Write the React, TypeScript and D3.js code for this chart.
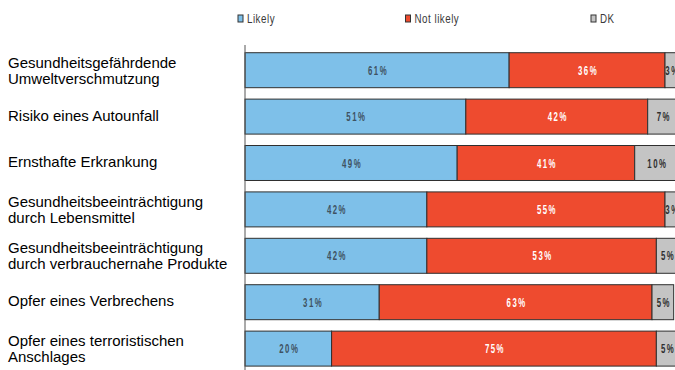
import React from "react";
import * as d3 from "d3";

const categories: string[][] = [
  ["Gesundheitsgefährdende", "Umweltverschmutzung"],
  ["Risiko eines Autounfall"],
  ["Ernsthafte Erkrankung"],
  ["Gesundheitsbeeinträchtigung", "durch Lebensmittel"],
  ["Gesundheitsbeeinträchtigung", "durch verbrauchernahe Produkte"],
  ["Opfer eines Verbrechens"],
  ["Opfer eines terroristischen", "Anschlages"],
];
const likely = [61, 51, 49, 42, 42, 31, 20];
const notLikely = [36, 42, 41, 55, 53, 63, 75];
const dk = [3, 7, 10, 3, 5, 5, 5];
const seriesNames = ["Likely", "Not likely", "DK"];

const W = 675;
const H = 370;
const colors = ["#7EC0E9", "#EE4B2F", "#C4C4C4"];
const labelColors = ["#3E5262", "#FFFFFF", "#2F2F2F"];
const sans = "'Liberation Sans', Arial, sans-serif";

export default function App() {
  const x = d3.scaleLinear().domain([0, 100]).range([245, 678]);
  const idx = categories.map((_, i) => String(i));
  const y = d3
    .scaleBand<string>()
    .domain(idx)
    .range([47, 371.8])
    .paddingInner(0.246)
    .paddingOuter(0.123);

  const rows = categories.map((c, i) => {
    const vals = [likely[i], notLikely[i], dk[i]];
    let acc = 0;
    const segs = vals.map((v, s) => {
      const seg = { s, v, x0: acc, x1: acc + v };
      acc += v;
      return seg;
    });
    return { c, i, segs };
  });

  const legendX = [238, 405.5, 591];

  return (
    <svg
      width={W}
      height={H}
      style={{ position: "absolute", left: 0, top: 0, background: "#fff" }}
    >
      {/* legend */}
      {seriesNames.map((n, s) => (
        <g key={n}>
          <rect
            x={legendX[s]}
            y={15}
            width={5}
            height={7}
            fill={colors[s]}
            stroke="#333"
            strokeWidth={1}
          />
          <text
            transform={`translate(${legendX[s] + 9},22.5) scale(0.85,1.1)`}
            fontFamily={sans}
            fontSize={11.5}
            letterSpacing={0.6}
            fill="#3a3a3a"
          >
            {n}
          </text>
        </g>
      ))}

      {/* bars */}
      {rows.map((r) => {
        const top = y(String(r.i))!;
        const bw = y.bandwidth();
        const cy = top + bw / 2;
        return (
          <g key={r.i}>
            {r.segs.map((sg) => (
              <rect
                key={sg.s}
                x={x(sg.x0)}
                y={top}
                width={x(sg.x1) - x(sg.x0)}
                height={bw}
                fill={colors[sg.s]}
                stroke="#2f2f2f"
                strokeWidth={1}
              />
            ))}
            {r.segs.map((sg) => (
              <text
                key={"t" + sg.s}
                transform={`translate(${(x(sg.x0) + x(sg.x1)) / 2 + 1},${cy + 4.5}) scale(0.6,1)`}
                textAnchor="middle"
                fontFamily={sans}
                fontWeight="bold"
                fontSize={13}
                letterSpacing={2.5}
                fill={labelColors[sg.s]}
              >
                {sg.v + "%"}
              </text>
            ))}
            {r.c.map((line, k) => (
              <text
                key={k}
                x={8}
                y={r.c.length === 1 ? cy + 4 : cy - 2.5 + k * 16}
                fontFamily={sans}
                fontSize={15}
                fill="#000"
              >
                {line}
              </text>
            ))}
          </g>
        );
      })}

      {/* axis line */}
      <line x1={245} x2={245} y1={45} y2={H} stroke="#555" strokeWidth={1} />
    </svg>
  );
}
